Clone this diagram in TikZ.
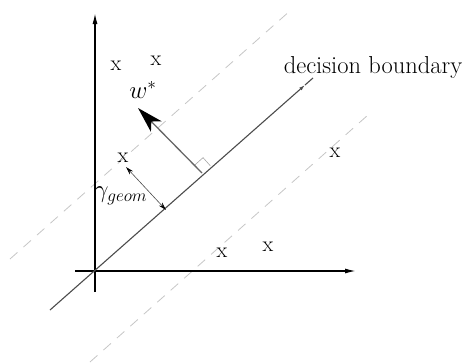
\documentclass[tikz,border=0pt]{standalone}
\usetikzlibrary{arrows.meta,calc}
\begin{document}
\begin{tikzpicture}[x=1pt,y=-1pt,
  axis/.style={line width=1.4pt,-{Latex[length=11pt,width=5pt]}},
  marginline/.style={gray!45,line width=0.8pt,dash pattern=on 10pt off 8pt},
  bound/.style={black!70,line width=1.1pt},
  ptmark/.style={inner sep=0pt,font=\fontsize{22}{26}\selectfont},
  lab/.style={inner sep=0pt,font=\fontsize{24.5}{28}\selectfont}]
\useasboundingbox (0,0) rectangle (466,364);
% coordinates
\coordinate (O) at (95,271);
\coordinate (ytop) at (95,13);
\coordinate (ybot) at (95,292);
\coordinate (xl) at (75,271);
\coordinate (xr) at (356,271);
\coordinate (b1) at (50,310);
\coordinate (b2) at (305,85);
\coordinate (b3) at (313,78);
\coordinate (u1) at (10,259);
\coordinate (u2) at (291,10);
\coordinate (l1) at (90,362);
\coordinate (l2) at (368,115);
\coordinate (foot) at (202,173);
\coordinate (wtip) at (138,108);
\coordinate (g1) at (126,167);
\coordinate (g2) at (166,210);
% margins
\draw[marginline] (u1) -- (u2);
\draw[marginline] (l1) -- (l2);
% axes
\draw[axis] (ybot) -- (ytop);
\draw[axis] (xl) -- (xr);
% decision boundary
\draw[bound,-{Latex[length=6pt,width=3.5pt]}] (b1) -- (b2);
\draw[bound] (b2) -- (b3);
% right angle mark
\draw[gray!70,line width=0.6pt] ($(foot)!11pt!(b3)$) -- ++(-7.3,-8.2) -- ++(-8.2,7.3);
% w* arrow
\draw[black!60,line width=1.3pt,-{Stealth[length=26pt,width=15pt,inset=7pt,black]}] (foot) -- (wtip);
% gamma arrow
\draw[black!70,line width=0.6pt,{Stealth[length=8pt,width=4.5pt,black]}-{Stealth[length=8pt,width=4.5pt,black]}] (g1) -- (g2);
% labels
\node[lab] (db) at (373,67) {decision boundary};
\node[lab] (w) at (143,90) {$w^{*}$};
\node[lab] (gam) at (121,196) {$\gamma_{geom}$};
% points
\node[ptmark] (p1) at (116,66) {x};
\node[ptmark] (p2) at (156,61) {x};
\node[ptmark] (p3) at (123,158) {x};
\node[ptmark] (p4) at (335,153) {x};
\node[ptmark] (p5) at (222,253) {x};
\node[ptmark] (p6) at (268,247) {x};
\end{tikzpicture}
\end{document}
